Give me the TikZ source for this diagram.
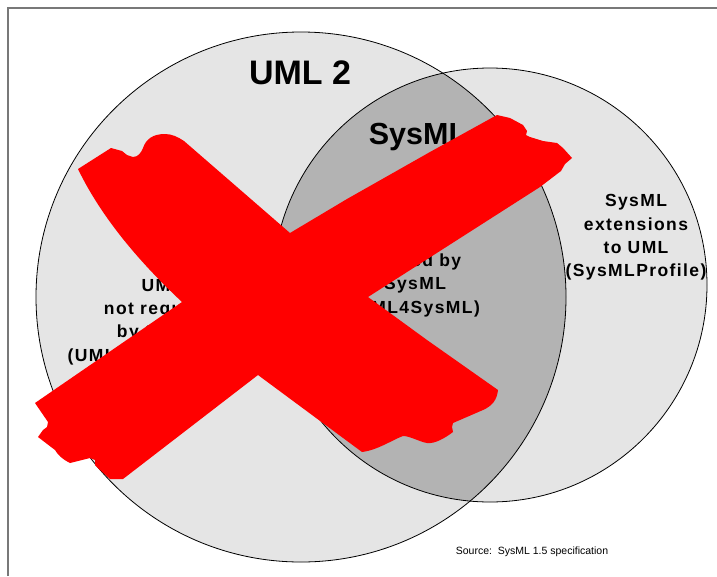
\documentclass[tikz,border=0pt]{standalone}
\usepackage{fontspec}
\setmainfont{Liberation Sans}
\newfontfamily\spacedfont[LetterSpace=8]{Liberation Sans}
\definecolor{lightg}{RGB}{229,229,229}
\definecolor{darkg}{RGB}{179,179,179}
\definecolor{frameg}{RGB}{120,120,120}
\definecolor{xred}{RGB}{255,0,0}
\tikzset{
  ring/.style={draw=black, line width=0.8pt},
  title/.style={font=\fontsize{34}{40}\selectfont\bfseries, inner sep=0pt},
  body/.style={font=\spacedfont\bfseries\fontsize{17.5}{23.3}\selectfont, align=center, inner sep=0pt},
  srcnote/.style={font=\fontsize{10.5}{12}\selectfont, inner sep=0pt}
}
\begin{document}
\begin{tikzpicture}[x=1pt,y=-1pt]
\useasboundingbox (0,0) rectangle (717,576);
\fill[white] (0,0) rectangle (717,576);
\draw[frameg, line width=1.2pt] (8,576) -- (8,8) -- (717,8);
\coordinate (c1) at (301,297);
\coordinate (c2) at (490,285);
\fill[lightg] (c1) circle[radius=265pt];
\fill[lightg] (c2) circle[radius=217pt];
\begin{scope}
  \clip (c2) circle[radius=217pt];
  \fill[darkg] (c1) circle[radius=265pt];
\end{scope}
\draw[ring] (c1) circle[radius=265pt];
\draw[ring] (c2) circle[radius=217pt];
\node[title] (uml) at (300,72.5) {UML 2};
\node[title, font=\fontsize{30.5}{36}\selectfont\bfseries] (sysml) at (418,137) {SysML};
\node[body] (notreq) at (162,322) {UML\\not required\\by SysML\\(UML - UML4SysML)};
\node[body] (reused) at (415,274) {UML\\reused by\\SysML\\(UML4SysML)};
\node[body] (ext) at (636,237.5) {SysML\\extensions\\to UML\\(SysMLProfile)};
\node[srcnote] (src) at (532,552) {Source:\ \ SysML 1.5 specification};
% red cross
\fill[xred] (78,169) -- (111,148) -- (122,151) -- (127,155) -- (133,157)
  .. controls (138,157) and (141,153) .. (143,148)
  .. controls (146,139) and (153,134) .. (165,134)
  .. controls (172,134) and (178,137) .. (184,141)
  -- (290,233) -- (347,199) -- (430,152) -- (497,115)
  -- (510,118) -- (523,125) -- (527,131) -- (526,135) -- (530,137)
  -- (543,141) -- (557,143) -- (563,148) -- (572,158) -- (565,164)
  -- (561,171) -- (540,187) -- (368,297) -- (427,340) -- (498,390)
  .. controls (497,400) and (492,406) .. (483,410)
  -- (453,423) -- (452,427) -- (453,432)
  .. controls (445,438) and (435,444) .. (427,443)
  .. controls (420,442) and (410,436) .. (403,436)
  .. controls (392,440) and (378,450) .. (362,452)
  -- (258,375) -- (123,479) -- (110,479) -- (100,470) -- (95,465)
  -- (95,460) -- (90,458) -- (70,463)
  .. controls (62,459) and (58,455) .. (55,450)
  -- (38,437) -- (43,430) -- (47,427) -- (48,422) -- (35,403)
  -- (182,302)
  .. controls (150,272) and (105,225) .. (78,169) -- cycle;
\end{tikzpicture}
\end{document}
